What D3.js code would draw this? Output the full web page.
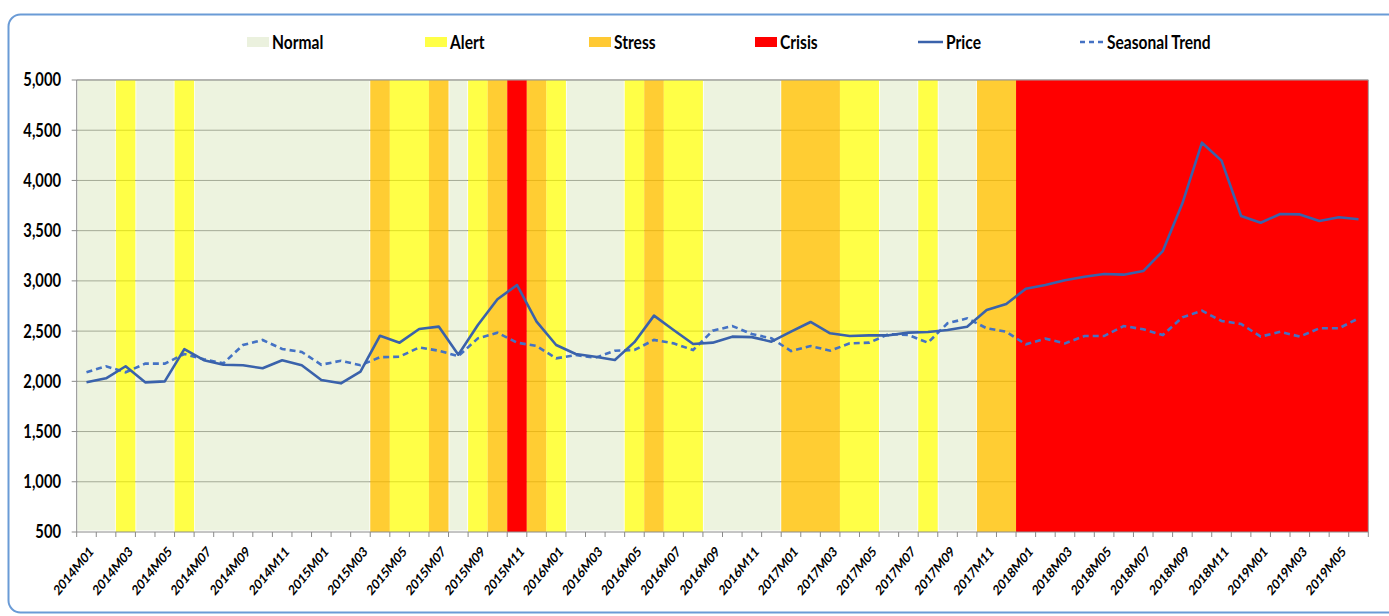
<!DOCTYPE html>
<html>
<head>
<meta charset="utf-8">
<style>
  body { margin: 0; background: #fff; }
  svg { display: block; }
  text { font-family: Lato, "Open Sans", sans-serif; font-weight: bold; fill: #000; }
</style>
</head>
<body>
<svg id="chart" width="1389" height="616"></svg>
<script src="https://d3js.org/d3.v7.min.js"></script>
<script>

// months shown on the x axis (2014M01 .. 2019M06)
var months = [
  "2014M01","2014M02","2014M03","2014M04","2014M05","2014M06","2014M07","2014M08","2014M09","2014M10","2014M11","2014M12",
  "2015M01","2015M02","2015M03","2015M04","2015M05","2015M06","2015M07","2015M08","2015M09","2015M10","2015M11","2015M12",
  "2016M01","2016M02","2016M03","2016M04","2016M05","2016M06","2016M07","2016M08","2016M09","2016M10","2016M11","2016M12",
  "2017M01","2017M02","2017M03","2017M04","2017M05","2017M06","2017M07","2017M08","2017M09","2017M10","2017M11","2017M12",
  "2018M01","2018M02","2018M03","2018M04","2018M05","2018M06","2018M07","2018M08","2018M09","2018M10","2018M11","2018M12",
  "2019M01","2019M02","2019M03","2019M04","2019M05","2019M06"
];

// market status per month: N normal, A alert, S stress, C crisis
var monthStatus = [
  "N","N","A","N","N","A","N","N","N","N","N","N",
  "N","N","N","S","A","A","S","N","A","S","C","S",
  "A","N","N","N","A","S","A","A","N","N","N","N",
  "S","S","S","A","A","N","N","A","N","N","S","S",
  "C","C","C","C","C","C","C","C","C","C","C","C",
  "C","C","C","C","C","C"
];

var price = [
  1990,2030,2150,1990,2000,2320,2210,2165,2160,2130,2210,2160,
  2013,1980,2096,2454,2385,2521,2545,2265,2560,2817,2959,2594,
  2362,2272,2245,2212,2390,2654,2511,2372,2385,2445,2440,2395,
  2494,2591,2478,2451,2458,2458,2485,2491,2511,2544,2710,2770,
  2922,2959,3006,3042,3069,3062,3098,3297,3772,4376,4197,3646,
  3579,3666,3662,3596,3633,3613
];

var seasonal = [
  2090,2150,2090,2176,2176,2272,2220,2180,2362,2412,2322,2292,
  2165,2205,2160,2240,2245,2338,2305,2250,2428,2484,2385,2352,
  2229,2262,2235,2305,2312,2412,2378,2312,2504,2551,2471,2428,
  2302,2352,2305,2378,2385,2471,2461,2385,2578,2627,2528,2494,
  2368,2425,2378,2451,2451,2551,2518,2461,2637,2703,2601,2571,
  2445,2494,2445,2528,2528,2627
];

var yTicks = [500,1000,1500,2000,2500,3000,3500,4000,4500,5000];

var statusNames = ["Normal","Alert","Stress","Crisis"];

var squeeze = 0.82; // the reference text is horizontally condensed

var svg = d3.select("#chart");

// outer frame
svg.append("rect")
  .attr("x", 8.5).attr("y", 14.5)
  .attr("width", 1410).attr("height", 598)
  .attr("rx", 12)
  .attr("fill", "none")
  .attr("stroke", "#6a9bd6")
  .attr("stroke-width", 2);

var pLeft = 76.7, pRight = 1368.3, pTop = 80, pBottom = 532;

var x = d3.scaleBand().domain(months).range([pLeft, pRight]).padding(0);
var y = d3.scaleLinear().domain([500, 5000]).range([pBottom, pTop]);

var bandFill = { N: "#cfe0aa", A: "#ffff00", S: "#ffc000", C: "#ff0000" };
var bandOpacity = { N: 0.38, A: 0.72, S: 0.8, C: 1 };

// gridlines (under the translucent bands)
svg.append("g")
  .selectAll("line")
  .data(yTicks.slice(1))
  .enter().append("line")
    .attr("x1", pLeft).attr("x2", pRight)
    .attr("y1", function(d) { return y(d); })
    .attr("y2", function(d) { return y(d); })
    .attr("stroke", "#8a8a8a")
    .attr("stroke-width", 1);

// group consecutive months with the same status into one band
var runs = [];
monthStatus.forEach(function(s, i) {
  var last = runs[runs.length - 1];
  if (last && last.s == s) last.end = i;
  else runs.push({ s: s, start: i, end: i });
});

svg.append("g")
  .selectAll("rect")
  .data(runs)
  .enter().append("rect")
    .attr("x", function(d) { return x(months[d.start]) + (d.s == "N" ? 0.8 : 0); })
    .attr("width", function(d) {
      var w = x(months[d.end]) + x.bandwidth() - x(months[d.start]);
      return d.s == "N" ? w - 1.6 : w;
    })
    .attr("y", pTop)
    .attr("height", function(d) { return d.s == "N" ? pBottom - pTop - 1.5 : pBottom - pTop; })
    .attr("fill", function(d) { return bandFill[d.s]; })
    .attr("fill-opacity", function(d) { return bandOpacity[d.s]; });

// axes frame
var axisColor = "#8a8a8a";
svg.append("line").attr("x1", pLeft).attr("x2", pRight).attr("y1", pBottom).attr("y2", pBottom).attr("stroke", axisColor);
svg.append("line").attr("x1", pLeft).attr("x2", pRight).attr("y1", pTop).attr("y2", pTop).attr("stroke", "#a0a0a0");
svg.append("line").attr("x1", pLeft).attr("x2", pLeft).attr("y1", pTop).attr("y2", pBottom).attr("stroke", axisColor);
svg.append("line").attr("x1", pRight).attr("x2", pRight).attr("y1", pTop).attr("y2", pBottom).attr("stroke", "#a0a0a0");

// y axis ticks and labels
var yg = svg.append("g");
yg.selectAll("line")
  .data(yTicks)
  .enter().append("line")
    .attr("x1", pLeft - 5).attr("x2", pLeft)
    .attr("y1", function(d) { return y(d); })
    .attr("y2", function(d) { return y(d); })
    .attr("stroke", axisColor);
yg.selectAll("text")
  .data(yTicks)
  .enter().append("text")
    .attr("transform", function(d) { return "translate(61," + y(d) + ") scale(" + squeeze + ",1)"; })
    .attr("text-anchor", "end")
    .attr("dy", "0.36em")
    .style("font-size", "18px")
    .text(d3.format(","));

// x axis: ticks at band edges, labels on odd months
var xg = svg.append("g");
xg.selectAll("line")
  .data(d3.range(months.length + 1))
  .enter().append("line")
    .attr("x1", function(i) { return pLeft + i * x.step(); })
    .attr("x2", function(i) { return pLeft + i * x.step(); })
    .attr("y1", pBottom).attr("y2", pBottom + 5)
    .attr("stroke", axisColor);

xg.selectAll("text")
  .data(months.filter(function(d, i) { return i % 2 == 0; }))
  .enter().append("text")
    .attr("transform", function(d) {
      return "translate(" + (x(d) + x.bandwidth() / 2 + 5) + "," + (pBottom + 17) + ") scale(" + squeeze + ",1) rotate(-45)";
    })
    .attr("text-anchor", "end")
    .attr("dy", "0.35em")
    .style("font-size", "14px")
    .text(function(d) { return d; });

// lines
var line = function(vals) {
  return d3.line()
    .x(function(d, i) { return x(months[i]) + x.bandwidth() / 2; })
    .y(function(d) { return y(d); })(vals);
};

svg.append("path")
  .attr("d", line(seasonal))
  .attr("fill", "none")
  .attr("stroke", "#4472c4")
  .attr("stroke-width", 2.6)
  .attr("stroke-dasharray", "6,4");

svg.append("path")
  .attr("d", line(price))
  .attr("fill", "none")
  .attr("stroke", "#3a62ab")
  .attr("stroke-width", 2.6)
  .attr("stroke-linejoin", "round");

// legend
var legendX = [247, 425, 589, 755];
var legendFill = ["#ebf1de", "#ffff47", "#ffc933", "#ff0000"];
var lg = svg.append("g");
function legendText(xPos, label) {
  lg.append("text")
    .attr("transform", "translate(" + xPos + ",42) scale(" + squeeze + ",1)")
    .attr("dy", "0.36em")
    .style("font-size", "19px")
    .text(label);
}
statusNames.forEach(function(name, i) {
  lg.append("rect")
    .attr("x", legendX[i]).attr("y", 37)
    .attr("width", 22).attr("height", 10)
    .attr("fill", legendFill[i]);
  legendText(legendX[i] + 25, name);
});
lg.append("line")
  .attr("x1", 918).attr("x2", 943).attr("y1", 42).attr("y2", 42)
  .attr("stroke", "#3a62ab").attr("stroke-width", 2.5);
legendText(946, "Price");
lg.append("line")
  .attr("x1", 1080).attr("x2", 1103).attr("y1", 42).attr("y2", 42)
  .attr("stroke", "#4472c4").attr("stroke-width", 2.5).attr("stroke-dasharray", "5,4");
legendText(1107, "Seasonal Trend");

</script>
</body>
</html>
